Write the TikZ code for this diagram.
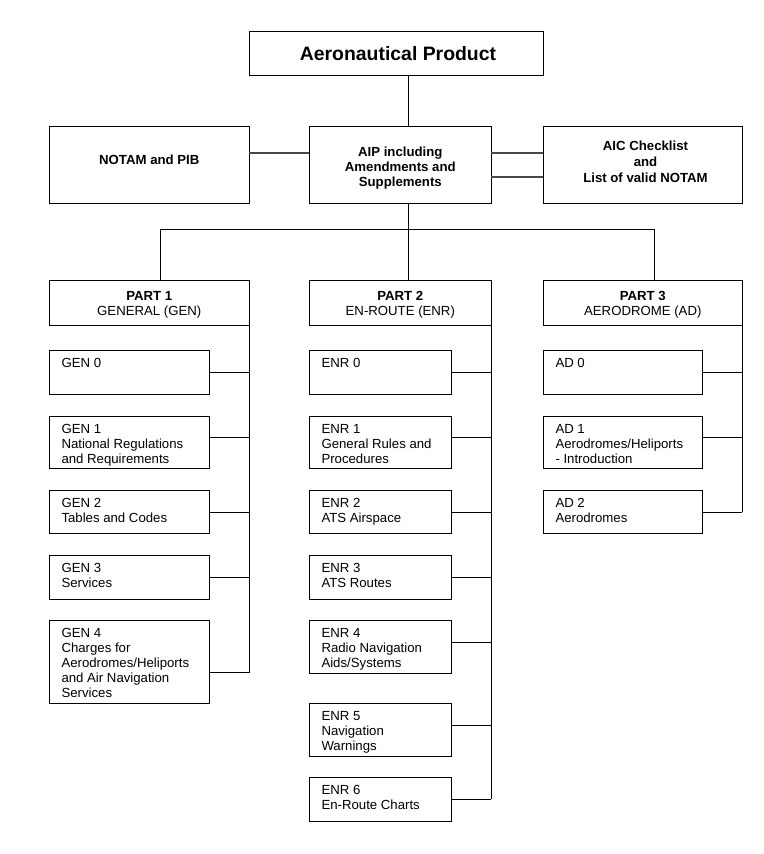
\documentclass[tikz,border=0pt]{standalone}
\usepackage{fontspec}
\setmainfont{Liberation Sans}
\newcommand\fbody{\fontsize{13.2}{15}\selectfont}
\begin{document}
\begin{tikzpicture}[x=1pt,y=-1pt,
  box/.style={draw=black, line width=1pt, rectangle, inner sep=0pt, outer sep=0pt, anchor=north west},
  conn/.style={draw=black, line width=1pt},
  gconn/.style={draw=black!72, line width=2pt},
  ctext/.style={inner sep=0pt, anchor=north, align=center, font=\fbody\bfseries},
  ptext/.style={inner sep=0pt, anchor=north, align=center, font=\fbody},
  ltext/.style={inner sep=0pt, anchor=north west, align=left, font=\fbody}]
\useasboundingbox (0,0) rectangle (763,854);
\fill[white] (0,0) rectangle (763,854);
% top boxes
\node[box, minimum width=294pt, minimum height=43.3pt] (aero) at (249.3,31.7) {};
\node[box, minimum width=200pt, minimum height=76.6pt] (notam) at (49.3,126.7) {};
\node[box, minimum width=182pt, minimum height=76.6pt] (aip) at (309.3,126.7) {};
\node[box, minimum width=199pt, minimum height=76.6pt] (aic) at (543.3,126.7) {};
\node[inner sep=0pt, anchor=north, font=\fontsize{19.4}{22}\selectfont\bfseries] (taero) at (398,46.7) {Aeronautical Product};
\node[ctext] (tnotam) at (149.3,155) {NOTAM and PIB};
\node[ctext] (taip) at (400.3,146.5) {AIP including\\Amendments and\\Supplements};
\node[ctext, font=\fontsize{13.2}{16}\selectfont\bfseries] (taic) at (645.5,141) {AIC Checklist\\and\\List of valid NOTAM};
% part boxes
\node[box, minimum width=200pt, minimum height=44.7pt] (p1) at (49.3,280.3) {};
\node[box, minimum width=182pt, minimum height=44.7pt] (p2) at (309.3,280.3) {};
\node[box, minimum width=199pt, minimum height=44.7pt] (p3) at (543.3,280.3) {};
\node[ptext] (tp1) at (149.3,291) {\textbf{PART 1}\\GENERAL (GEN)};
\node[ptext] (tp2) at (400.3,291) {\textbf{PART 2}\\EN-ROUTE (ENR)};
\node[ptext] (tp3) at (642.8,291) {\textbf{PART 3}\\AERODROME (AD)};
% GEN boxes
\node[box, minimum width=160pt, minimum height=44pt] (g0) at (49.3,350.3) {};
\node[box, minimum width=160pt, minimum height=52pt] (g1) at (49.3,416.3) {};
\node[box, minimum width=160pt, minimum height=43pt] (g2) at (49.3,490.3) {};
\node[box, minimum width=160pt, minimum height=44pt] (g3) at (49.3,555.3) {};
\node[box, minimum width=160pt, minimum height=82.7pt] (g4) at (49.3,620.3) {};
\node[ltext] (tg0) at ([shift={(12,7.5)}]g0.north west) {GEN 0};
\node[ltext] (tg1) at ([shift={(12,7.5)}]g1.north west) {GEN 1\\National Regulations\\and Requirements};
\node[ltext] (tg2) at ([shift={(12,7.5)}]g2.north west) {GEN 2\\Tables and Codes};
\node[ltext] (tg3) at ([shift={(12,7.5)}]g3.north west) {GEN 3\\Services};
\node[ltext] (tg4) at ([shift={(12,7.5)}]g4.north west) {GEN 4\\Charges for\\Aerodromes/Heliports\\and Air Navigation\\Services};
% ENR boxes
\node[box, minimum width=142pt, minimum height=44pt] (e0) at (309.3,350.3) {};
\node[box, minimum width=142pt, minimum height=52pt] (e1) at (309.3,416.3) {};
\node[box, minimum width=142pt, minimum height=43pt] (e2) at (309.3,490.3) {};
\node[box, minimum width=142pt, minimum height=44pt] (e3) at (309.3,555.3) {};
\node[box, minimum width=142pt, minimum height=52.7pt] (e4) at (309.3,620.3) {};
\node[box, minimum width=142pt, minimum height=52.7pt] (e5) at (309.3,703.3) {};
\node[box, minimum width=142pt, minimum height=43.7pt] (e6) at (309.3,777.3) {};
\node[ltext] (te0) at ([shift={(12,7.5)}]e0.north west) {ENR 0};
\node[ltext] (te1) at ([shift={(12,7.5)}]e1.north west) {ENR 1\\General Rules and\\Procedures};
\node[ltext] (te2) at ([shift={(12,7.5)}]e2.north west) {ENR 2\\ATS Airspace};
\node[ltext] (te3) at ([shift={(12,7.5)}]e3.north west) {ENR 3\\ATS Routes};
\node[ltext] (te4) at ([shift={(12,7.5)}]e4.north west) {ENR 4\\Radio Navigation\\Aids/Systems};
\node[ltext] (te5) at ([shift={(12,7.5)}]e5.north west) {ENR 5\\Navigation\\Warnings};
\node[ltext] (te6) at ([shift={(12,7.5)}]e6.north west) {ENR 6\\En-Route Charts};
% AD boxes
\node[box, minimum width=159pt, minimum height=44pt] (a0) at (543.3,350.3) {};
\node[box, minimum width=159pt, minimum height=52pt] (a1) at (543.3,416.3) {};
\node[box, minimum width=159pt, minimum height=43pt] (a2) at (543.3,490.3) {};
\node[ltext] (ta0) at ([shift={(12,7.5)}]a0.north west) {AD 0};
\node[ltext] (ta1) at ([shift={(12,7.5)}]a1.north west) {AD 1\\Aerodromes/Heliports\\- Introduction};
\node[ltext] (ta2) at ([shift={(12,7.5)}]a2.north west) {AD 2\\Aerodromes};
% helper coordinates
\coordinate (vx) at (408.3,0);
\coordinate (bl) at (160.3,229.3);
\coordinate (br) at (654.3,229.3);
% top connectors
\draw[conn] (aero.south -| vx) -- (aip.north -| vx);
\draw[gconn] (notam.east |- 0,152.7) -- (aip.west |- 0,152.7);
\draw[gconn] (aip.east |- 0,152.7) -- (aic.west |- 0,152.7);
\draw[gconn] (aip.east |- 0,177) -- (aic.west |- 0,177);
\draw[conn] (aip.south -| vx) -- (p2.north -| vx);
\draw[conn] (p1.north -| bl) -- (bl) -- (br) -- (p3.north -| br);
% spines
\draw[conn] (p1.south east) -- (p1.south east |- 0,672.7);
\draw[conn] (p2.south east) -- (p2.south east |- 0,799);
\draw[conn] (p3.south east) -- (p3.south east |- 0,512.3);
% GEN hooks
\draw[conn] (g0.east |- 0,372.3) -- (p1.east |- 0,372.3);
\draw[conn] (g1.east |- 0,437.3) -- (p1.east |- 0,437.3);
\draw[conn] (g2.east |- 0,512.3) -- (p1.east |- 0,512.3);
\draw[conn] (g3.east |- 0,577.3) -- (p1.east |- 0,577.3);
\draw[conn] (g4.east |- 0,672.7) -- (p1.east |- 0,672.7);
% ENR hooks
\draw[conn] (e0.east |- 0,372.3) -- (p2.east |- 0,372.3);
\draw[conn] (e1.east |- 0,437.3) -- (p2.east |- 0,437.3);
\draw[conn] (e2.east |- 0,512.3) -- (p2.east |- 0,512.3);
\draw[conn] (e3.east |- 0,577.3) -- (p2.east |- 0,577.3);
\draw[conn] (e4.east |- 0,642.3) -- (p2.east |- 0,642.3);
\draw[conn] (e5.east |- 0,725) -- (p2.east |- 0,725);
\draw[conn] (e6.east |- 0,799) -- (p2.east |- 0,799);
% AD hooks
\draw[conn] (a0.east |- 0,372.3) -- (p3.east |- 0,372.3);
\draw[conn] (a1.east |- 0,437.3) -- (p3.east |- 0,437.3);
\draw[conn] (a2.east |- 0,512.3) -- (p3.east |- 0,512.3);
\end{tikzpicture}
\end{document}
